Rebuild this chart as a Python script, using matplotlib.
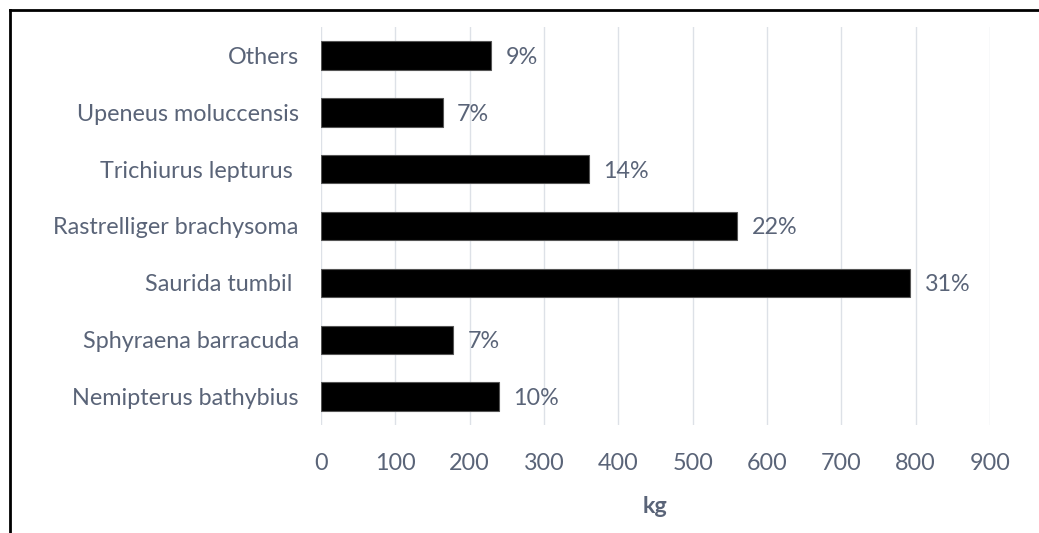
import matplotlib
matplotlib.use("Agg")
import matplotlib.pyplot as plt
from matplotlib.lines import Line2D

species = ["Nemipterus bathybius", "Sphyraena barracuda", "Saurida tumbil ",
           "Rastrelliger brachysoma", "Trichiurus lepturus ", "Upeneus moluccensis", "Others"]
weights_kg = [240, 178, 793, 560, 361, 164, 229]
shares = ["10%", "7%", "31%", "22%", "14%", "7%", "9%"]
xticks = [0, 100, 200, 300, 400, 500, 600, 700, 800, 900]

txt = "#5a6478"
fs = 16.8
plt.rcParams['font.family'] = ['Lato', 'DejaVu Sans']

fig = plt.figure(figsize=(10.39, 5.33), dpi=100)
ax = fig.add_axes([321/1039, 1-425/533, (990-321)/1039, (425-27)/533])

y = list(range(len(species)))
ax.barh(y, weights_kg, height=0.5, color="black", edgecolor="#555555", linewidth=0.8, zorder=3)
for yi, w, s in zip(y, weights_kg, shares):
    ax.text(w + 19, yi, s, va="center_baseline", ha="left", fontsize=fs, color=txt)

ax.set_xlim(0, 900)
ax.set_ylim(-0.5, 6.5)
ax.set_xticks(xticks)
ax.set_xticklabels([str(t) for t in xticks])
ax.set_yticks(y)
ax.set_yticklabels(species)
ax.tick_params(axis='both', length=0, labelsize=fs, colors=txt)
ax.tick_params(axis='x', pad=20)
ax.tick_params(axis='y', pad=16)
ax.grid(axis='x', color="#dde1e7", linewidth=1, zorder=0)
for sp in ax.spines.values():
    sp.set_visible(False)
ax.set_xlabel("kg", fontsize=fs, fontweight="bold", color=txt, labelpad=16)

# outer frame (left and top edges visible)
fig.add_artist(Line2D([10/1039, 10/1039], [0, 1-10/533], transform=fig.transFigure, color="black", linewidth=2))
fig.add_artist(Line2D([10/1039, 1], [1-10/533, 1-10/533], transform=fig.transFigure, color="black", linewidth=2))

fig.savefig("out.png", dpi=100)
